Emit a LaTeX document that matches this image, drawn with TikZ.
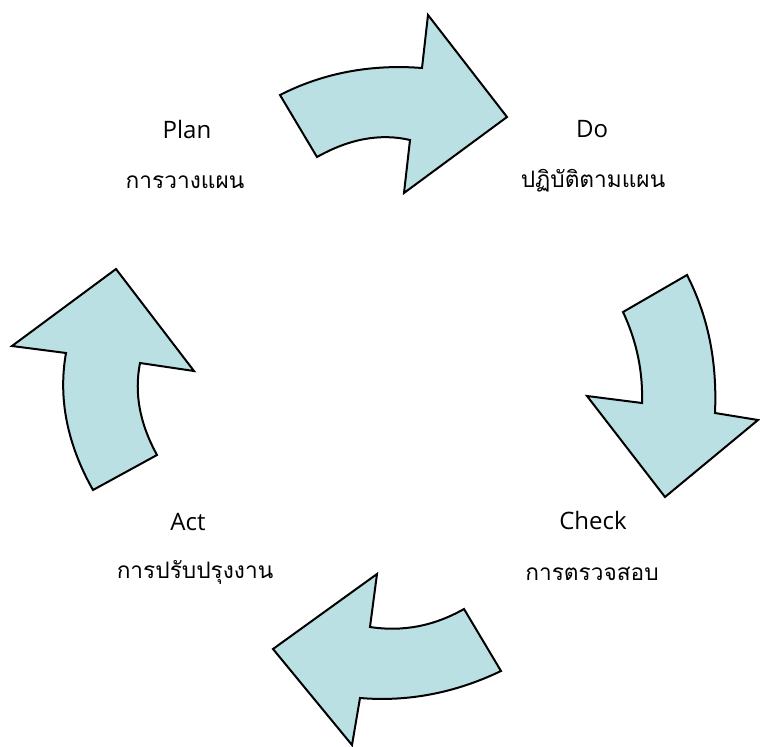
\documentclass[tikz,border=0pt]{standalone}
\usepackage{fontspec}
\usepackage{xcolor}
\usepackage{tikz}
\setmainfont{Open Sans}
\newfontfamily\thaifont[Script=Thai]{Loma}
\definecolor{arrowfill}{RGB}{187,224,227}

\begin{document}
\begin{tikzpicture}[x=0.75pt, y=-0.75pt,
        cyclearrow/.style={draw=black, fill=arrowfill, line width=1.5pt, line join=miter},
        stage/.style={anchor=base, font=\fontsize{18}{22}\selectfont},
        stageth/.style={anchor=base, font=\fontsize{17}{22}\selectfont\thaifont}]
        \useasboundingbox (0,0) rectangle (760,746);

        % Plan -> Do
        \draw[cyclearrow] (280,95) .. controls (323,73) and (371,64) .. (422,68) -- (428,15) -- (507,117)
            -- (404,193) -- (410,140) .. controls (380,133) and (349,139) .. (317,157) -- cycle;
        % Do -> Check
        \draw[cyclearrow] (623,312) -- (687,275) .. controls (710,320) and (717,366) .. (715,413) -- (758,420)
            -- (665,497) -- (587,396) -- (642,403) .. controls (643,372) and (637,342) .. cycle;
        % Check -> Act
        \draw[cyclearrow] (501,671) .. controls (455,693) and (408,702) .. (360,698) -- (352,745) -- (273,649)
            -- (377,574) -- (370,627) .. controls (403,632) and (434,626) .. (464,609) -- cycle;
        % Act -> Plan
        \draw[cyclearrow] (93,490) -- (157,455) .. controls (140,424) and (134,394) .. (140,363) -- (194,371)
            -- (116,269) -- (12,346) -- (66,353) .. controls (58,398) and (67,444) .. cycle;

        \node[stage] (Plan) at (187,138) {Plan};
        \node[stageth] (PlanTh) at (185,188) {การวางแผน};
        \node[stage] (Do) at (592,137) {Do};
        \node[stageth] (DoTh) at (593,187) {ปฏิบัติตามแผน};
        \node[stage] (Check) at (593,529) {Check};
        \node[stageth] (CheckTh) at (592,580) {การตรวจสอบ};
        \node[stage] (Act) at (188,530) {Act};
        \node[stageth] (ActTh) at (195,578) {การปรับปรุงงาน};
    \end{tikzpicture}
\end{document}
